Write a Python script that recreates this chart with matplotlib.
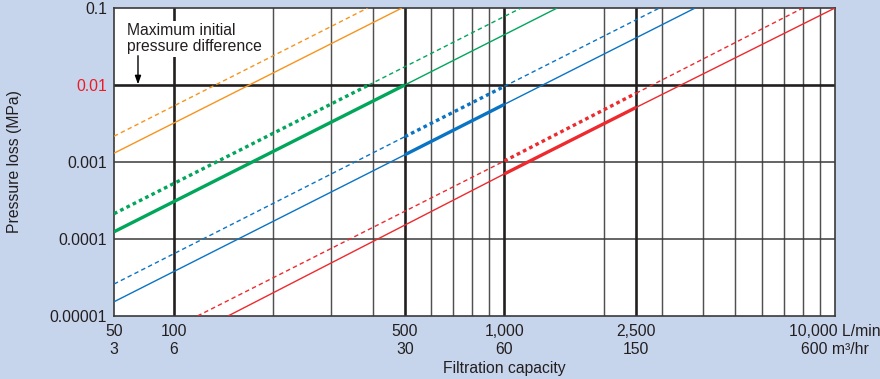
import matplotlib
matplotlib.use("Agg")
import matplotlib.pyplot as plt

plt.rcParams['font.family'] = ['Liberation Sans', 'DejaVu Sans']

# ---------------- data ----------------
x_tick_pos = [66, 100, 500, 1000, 2500, 10000]
x_tick_lpm = ["50", "100", "500", "1,000", "2,500", "10,000 L/min"]
x_tick_m3 = ["3", "6", "30", "60", "150", "600 m³/hr"]
y_tick_pos = [1e-5, 1e-4, 1e-3, 1e-2, 1e-1]
y_tick_lbl = ["0.00001", "0.0001", "0.001", "0.01", "0.1"]

grid_major_x = [100, 500, 1000, 2500]
grid_minor_x = [200, 300, 400, 600, 700, 800, 900,
                2000, 3000, 4000, 5000, 6000, 7000, 8000, 9000]
grid_minor_y = [1e-4, 1e-3]
grid_major_y = [1e-2]

orange_solid_x = [66, 490]
orange_solid_y = [0.0013, 0.1]
orange_dash_x = [66, 386]
orange_dash_y = [0.00216, 0.1]

green_solid_x = [66, 500, 1445]
green_solid_y = [1.24e-4, 0.01, 0.1]
green_dash_x = [66, 389, 1124]
green_dash_y = [2.13e-4, 0.01, 0.1]

blue_solid_x = [66, 500, 1000, 3777]
blue_solid_y = [1.53e-5, 0.00124, 0.0056, 0.1]
blue_dash_x = [66, 500, 1000, 2946]
blue_dash_y = [2.6e-5, 0.00213, 0.0096, 0.1]

red_solid_x = [146, 1000, 2500, 10000]
red_solid_y = [1e-5, 0.0007, 0.0051, 0.1]
red_dash_x = [118, 1000, 2500, 8000]
red_dash_y = [1e-5, 0.00103, 0.0078, 0.1]

# (x, y, color, style, index of thick segment or None)
lines = [
    (orange_solid_x, orange_solid_y, "#f7941d", "solid", None),
    (orange_dash_x, orange_dash_y, "#f7941d", "dash", None),
    (green_solid_x, green_solid_y, "#00a65a", "solid", 0),
    (green_dash_x, green_dash_y, "#00a65a", "dash", 0),
    (blue_solid_x, blue_solid_y, "#0a74c4", "solid", 1),
    (blue_dash_x, blue_dash_y, "#0a74c4", "dash", 1),
    (red_solid_x, red_solid_y, "#ee2a2e", "solid", 1),
    (red_dash_x, red_dash_y, "#ee2a2e", "dash", 1),
]

BG = "#c6d4ec"
TXT = "#231f20"
FS = 11.3

fig = plt.figure(figsize=(8.8, 3.79), dpi=100, facecolor=BG)
W, H = 880, 379
ax = fig.add_axes([114 / W, 1 - 316 / H, (835 - 114) / W, (316 - 8) / H])
ax.set_facecolor("white")
ax.set_xscale("log")
ax.set_yscale("log")
ax.set_xlim(66, 10000)
ax.set_ylim(1e-5, 0.1)

# grid
for gx in grid_minor_x:
    ax.axvline(gx, color="#505050", lw=1.05, zorder=1)
for gy in grid_minor_y:
    ax.axhline(gy, color="#3a3a3a", lw=1.1, zorder=1)
for gx in grid_major_x:
    ax.axvline(gx, color="#231f20", lw=1.9, zorder=1.2)
for gy in grid_major_y:
    ax.axhline(gy, color="#231f20", lw=1.9, zorder=1.2)

for sp in ax.spines.values():
    sp.set_color("#3a3a3a")
    sp.set_linewidth(1.2)

# lines
for xs, ys, col, style, thick in lines:
    for i in range(len(xs) - 1):
        seg_x = xs[i:i + 2]
        seg_y = ys[i:i + 2]
        is_thick = (thick == i)
        if style == "solid":
            ax.plot(seg_x, seg_y, color=col, lw=2.4 if is_thick else 1.0,
                    solid_capstyle="butt", zorder=3)
        else:
            if is_thick:
                ax.plot(seg_x, seg_y, color=col, lw=2.4, dashes=(1.1, 1.0),
                        dash_capstyle="butt", zorder=3)
            else:
                ax.plot(seg_x, seg_y, color=col, lw=1.0, dashes=(3.2, 2.3),
                        dash_capstyle="butt", zorder=3)

# ticks
ax.set_xticks(x_tick_pos)
ax.set_xticklabels([f"{a}\n{b}" for a, b in zip(x_tick_lpm, x_tick_m3)],
                   fontsize=FS, color=TXT, linespacing=1.2)
ax.xaxis.set_minor_locator(matplotlib.ticker.NullLocator())
ax.set_yticks(y_tick_pos)
ax.set_yticklabels(y_tick_lbl, fontsize=FS, color=TXT)
ax.yaxis.set_minor_locator(matplotlib.ticker.NullLocator())
for lbl in ax.get_yticklabels():
    if lbl.get_text() == "0.01":
        lbl.set_color("#ed1c24")
ax.tick_params(length=0, pad=5)
ax.tick_params(axis="x", pad=6)

# axis titles
fig.text(504 / W, 1 - 369 / H, "Filtration capacity", fontsize=FS,
         color=TXT, ha="center", va="center")
fig.text(15 / W, 1 - 162 / H, "Pressure loss (MPa)", fontsize=FS,
         color=TXT, ha="center", va="center", rotation=90)

# annotation
ax.text(0.0180, 0.950, "Maximum initial\npressure difference",
        transform=ax.transAxes, fontsize=FS, color=TXT, ha="left", va="top",
        linespacing=1.08, zorder=4,
        bbox=dict(boxstyle="square,pad=0.15", fc="white", ec="none"))
ax.annotate("", xy=(78, 0.0102), xytext=(78, 0.024),
            arrowprops=dict(arrowstyle="-|>,head_length=0.5,head_width=0.18",
                            color="black", lw=1.0, shrinkA=0, shrinkB=0),
            zorder=5)

fig.savefig("out.png", dpi=100, facecolor=BG)
